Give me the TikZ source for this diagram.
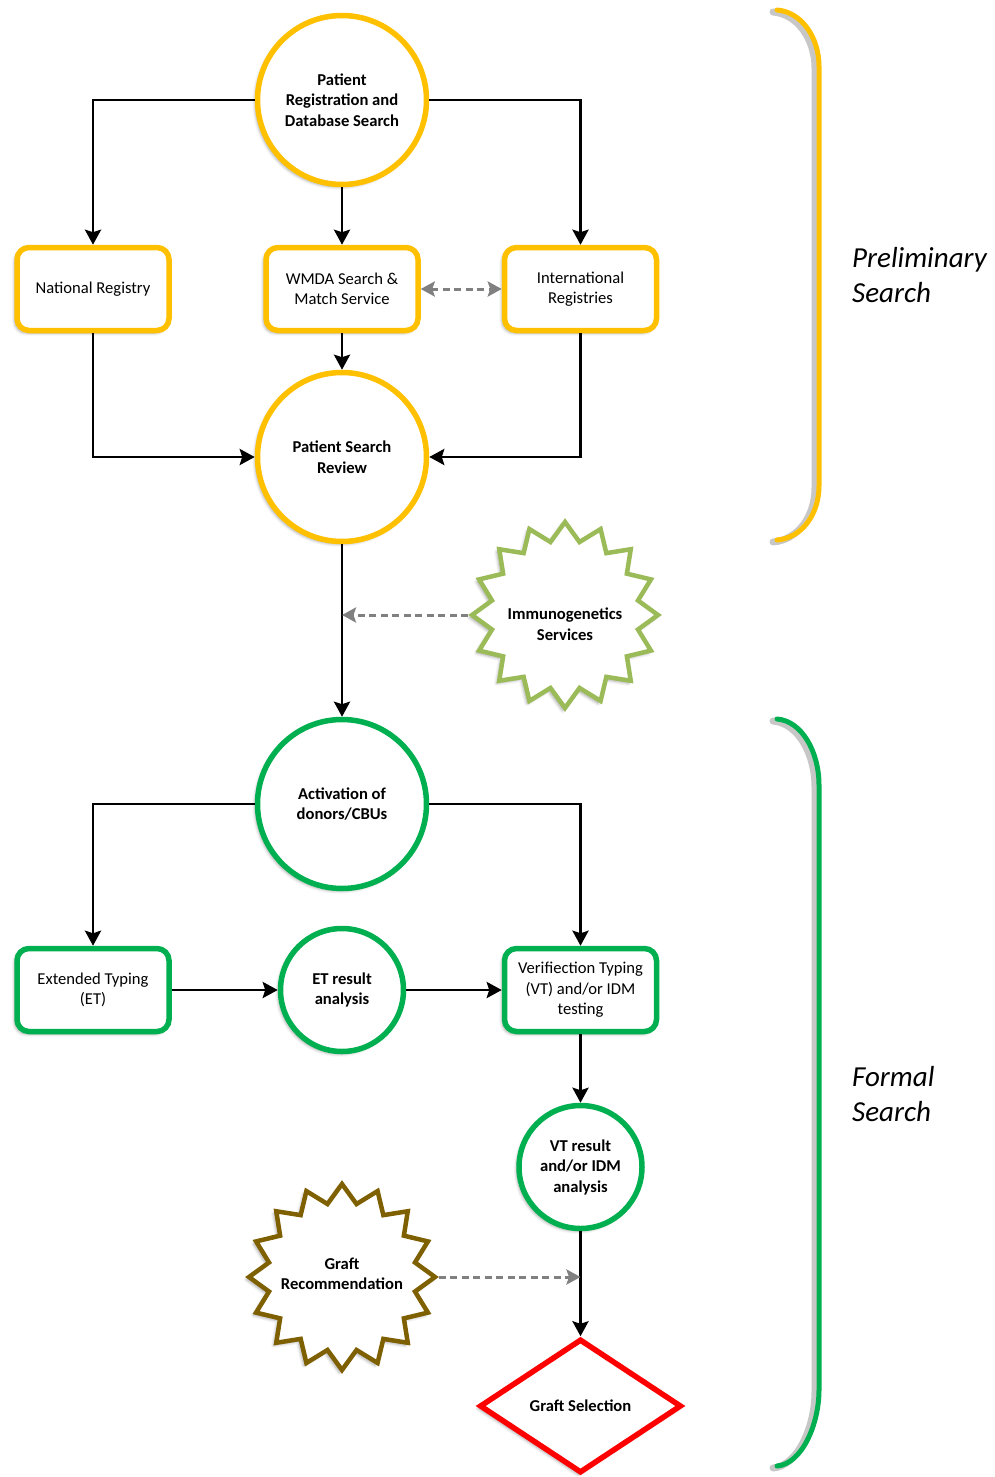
\documentclass[tikz,border=0pt]{standalone}
\usepackage{fontspec}
\setmainfont{Carlito}
\usetikzlibrary{shapes.geometric,arrows.meta,shadows.blur}
\definecolor{yel}{HTML}{FFC000}
\definecolor{grn}{HTML}{00B050}
\definecolor{lgrn}{HTML}{9BBB59}
\definecolor{brn}{HTML}{7F6000}
\definecolor{dgray}{HTML}{808080}
\begin{document}
\begin{tikzpicture}[x=1pt,y=-1pt,
  shad/.style={blur shadow={shadow xshift=-2.5pt,shadow yshift=-2.5pt,shadow blur radius=3pt,shadow opacity=35}},
  base/.style={draw, fill=white, line width=5.5pt, align=center, inner sep=0pt, shad},
  boxnode/.style={base, rounded corners=12pt, minimum width=152pt, minimum height=83pt, font=\fontsize{16.6}{20.5}\selectfont},
  circnode/.style={base, circle, minimum size=#1, font=\bfseries\fontsize{16.6}{20.5}\selectfont},
  starnode/.style={draw, fill=white, star, star points=16, star point ratio=1.25, minimum size=186pt, inner sep=0pt, line width=4.5pt, shad},
  btxt/.style={align=center, inner sep=0pt, font=\bfseries\fontsize{16.6}{20.5}\selectfont},
  arr/.style={line width=2.9pt, -{Stealth[length=15pt,width=16pt,inset=2.5pt]}},
  darr/.style={line width=3pt, dgray, dash pattern=on 7pt off 4.5pt, -{Stealth[length=14pt,width=15pt,inset=2.5pt]}},
  bracket/.style={line width=5pt, line cap=round},
  bshadow/.style={line width=7pt, line cap=round, black, opacity=0.22, xshift=-4pt, yshift=-2pt},
  sidelabel/.style={anchor=west, align=left, inner sep=0pt, font=\itshape\fontsize{29}{35}\selectfont}
]
\path[use as bounding box] (0,0) rectangle (995,1477);

% Preliminary search nodes
\node[circnode=169pt, draw=yel] (c1) at (342,100) {Patient\\Registration and\\Database Search};
\node[boxnode, draw=yel] (nat) at (93,289) {National Registry};
\node[boxnode, draw=yel] (wmda) at (342,289) {WMDA Search \&\\Match Service};
\node[boxnode, draw=yel] (intl) at (580.5,289) {International\\Registries};
\node[circnode=169pt, draw=yel] (psr) at (342,457) {Patient Search\\Review};

% Immunogenetics
\node[starnode, draw=lgrn] (imm) at (565,615) {};
\node[btxt] (immt) at (565,624) {Immunogenetics\\Services};

% Formal search nodes
\node[circnode=169pt, draw=grn] (act) at (342,804) {Activation of\\donors/CBUs};
\node[boxnode, draw=grn] (et) at (93,990) {Extended Typing\\(ET)};
\node[circnode=123pt, draw=grn] (etr) at (342,990) {ET result\\analysis};
\node[boxnode, draw=grn] (vt) at (580.5,990) {Verifiection Typing\\(VT) and/or IDM\\testing};
\node[circnode=123pt, draw=grn] (vtr) at (580.5,1167) {VT result\\and/or IDM\\analysis};
\node[starnode, draw=brn] (gr) at (342,1277) {};
\node[btxt] (grt) at (342,1274) {Graft\\Recommendation};
\node[base, diamond, draw=red, minimum width=202pt, minimum height=134pt, font=\bfseries\fontsize{16.6}{20.5}\selectfont] (gs) at (580.5,1406) {Graft Selection};

% connectors
\draw[arr] (c1.west) -| (nat.north);
\draw[arr] (c1.east) -| (intl.north);
\draw[arr] (c1.south) -- (wmda.north);
\draw[darr, {Stealth[length=14pt,width=15pt,inset=2.5pt]}-{Stealth[length=14pt,width=15pt,inset=2.5pt]}] (wmda.east) -- (intl.west);
\draw[arr] (wmda.south) -- (psr.north);
\draw[arr] (nat.south) |- (psr.west);
\draw[arr] (intl.south) |- (psr.east);
\draw[arr] (psr.south) -- (act.north);
\coordinate (immend) at (psr.south |- imm.west);
\draw[darr] (imm.west) -- (immend);
\draw[arr] (act.west) -| (et.north);
\draw[arr] (act.east) -| (vt.north);
\draw[arr] (et.east) -- (etr.west);
\draw[arr] (etr.east) -- (vt.west);
\draw[arr] (vt.south) -- (vtr.north);
\draw[arr] (vtr.south) -- (gs.north);
\coordinate (grend) at (vtr.south |- gr.east);
\draw[darr] (gr.east) -- (grend);

% brackets
\draw[bshadow] (777,10) .. controls (802,12) and (819,38) .. (819,66) -- (819,486) .. controls (819,514) and (802,538) .. (777,540);
\draw[bracket, yel] (777,10) .. controls (802,12) and (819,38) .. (819,66) -- (819,486) .. controls (819,514) and (802,538) .. (777,540);
\draw[bshadow] (777,719) .. controls (802,721) and (819,752) .. (819,785) -- (819,1390) .. controls (819,1424) and (802,1464) .. (777,1466);
\draw[bracket, grn] (777,719) .. controls (802,721) and (819,752) .. (819,785) -- (819,1390) .. controls (819,1424) and (802,1464) .. (777,1466);

\node[sidelabel] (prel) at (852,275.5) {Preliminary\\Search};
\node[sidelabel] (form) at (852,1094.5) {Formal\\Search};
\end{tikzpicture}
\end{document}
